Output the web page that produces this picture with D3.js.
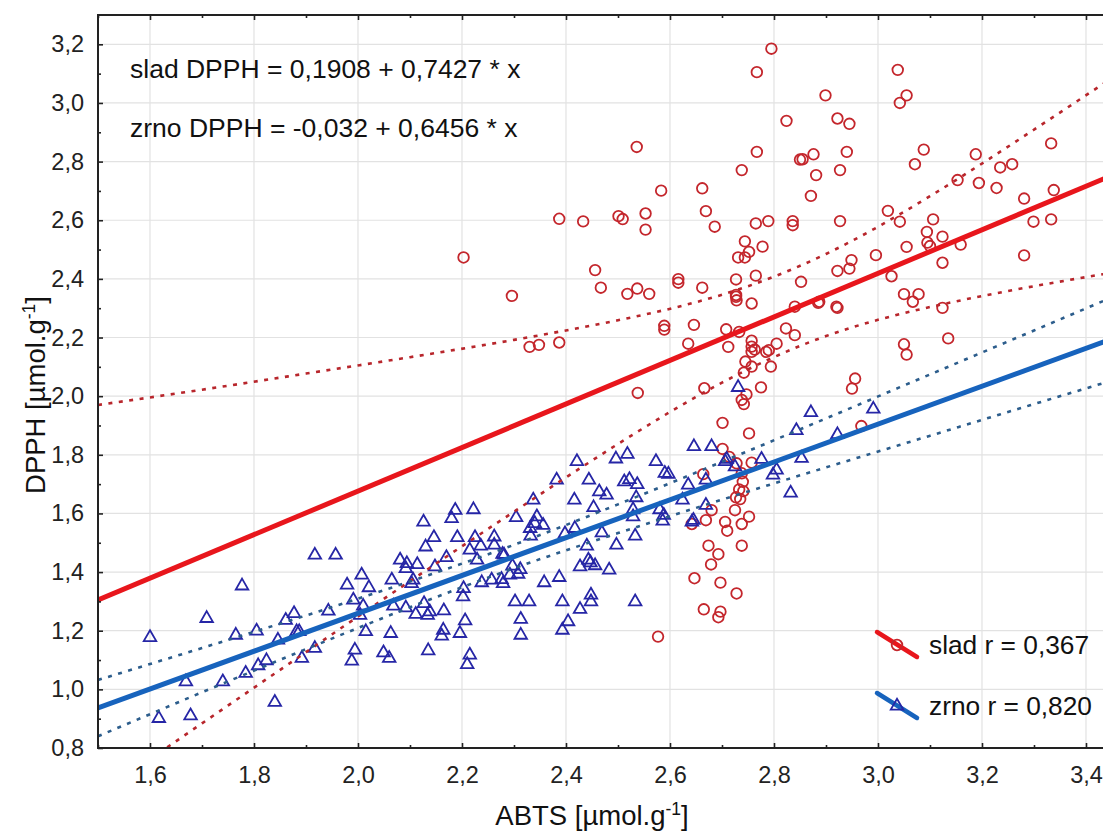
<!DOCTYPE html>
<html>
<head>
<meta charset="utf-8">
<script src="https://cdn.jsdelivr.net/npm/d3@7"></script>
<style>
	body { margin: 0; background: #fff; }
	svg { display: block; font-family: "Liberation Sans", Arial, sans-serif; }
</style>
</head>
<body>
<svg id="chart" width="1103" height="832"></svg>
<script>

// slad (malt) samples: [ABTS, DPPH]
const sladPoints = [
	[2.203,2.473],[2.296,2.342],[2.387,2.605],[2.433,2.596],[2.501,2.614],[2.509,2.604],
	[2.553,2.623],[2.553,2.568],[2.583,2.701],[2.456,2.430],[2.467,2.370],[2.518,2.349],
	[2.537,2.367],[2.560,2.349],[2.330,2.168],[2.348,2.175],[2.387,2.183],[2.589,2.240],
	[2.589,2.227],[2.616,2.399],[2.616,2.387],[2.795,3.185],[2.767,3.105],[2.824,2.939],
	[2.767,2.833],[2.738,2.771],[2.850,2.807],[2.536,2.850],[2.662,2.709],[2.669,2.631],
	[2.686,2.578],[2.765,2.589],[2.789,2.597],[2.836,2.597],[2.836,2.583],[2.744,2.528],
	[2.778,2.510],[2.752,2.492],[2.731,2.473],[2.744,2.473],[2.765,2.411],[2.727,2.398],
	[2.662,2.370],[2.727,2.345],[2.727,2.339],[2.852,2.390],[2.899,3.026],[3.038,3.113],
	[3.055,3.026],[3.042,3.000],[2.922,2.947],[2.945,2.929],[2.876,2.825],[2.855,2.808],
	[2.940,2.833],[2.927,2.771],[2.881,2.754],[2.871,2.683],[3.088,2.841],[3.071,2.791],
	[3.188,2.825],[3.333,2.862],[3.235,2.780],[3.258,2.791],[3.153,2.737],[3.194,2.727],
	[3.228,2.710],[3.281,2.674],[3.338,2.703],[3.299,2.595],[3.333,2.603],[3.281,2.480],
	[2.927,2.597],[3.019,2.632],[3.042,2.595],[3.106,2.603],[3.094,2.560],[3.095,2.524],
	[3.100,2.512],[3.124,2.544],[3.159,2.517],[3.124,2.455],[2.996,2.481],[3.055,2.509],
	[2.949,2.464],[2.945,2.435],[2.922,2.427],[3.026,2.409],[2.887,2.322],[2.922,2.301],
	[3.050,2.348],[3.078,2.348],[3.067,2.322],[3.124,2.301],[3.135,2.197],[3.050,2.177],
	[3.055,2.142],[2.956,2.060],[2.950,2.026],[2.968,1.898],[2.757,2.316],[2.728,2.327],
	[2.646,2.243],[2.708,2.228],[2.733,2.219],[2.635,2.179],[2.712,2.168],[2.757,2.189],
	[2.757,2.169],[2.763,2.159],[2.757,2.151],[2.785,2.151],[2.790,2.157],[2.805,2.179],
	[2.823,2.231],[2.840,2.208],[2.840,2.305],[2.885,2.318],[2.920,2.305],[2.745,2.118],
	[2.757,2.101],[2.742,2.080],[2.794,2.101],[2.538,2.011],[2.666,2.027],[2.775,2.030],
	[2.747,2.006],[2.738,1.987],[2.742,1.973],[2.701,1.909],[2.752,1.873],[2.701,1.820],
	[2.714,1.793],[2.728,1.771],[2.757,1.773],[2.664,1.734],[2.738,1.737],[2.740,1.708],
	[2.733,1.682],[2.741,1.676],[2.727,1.655],[2.735,1.649],[2.680,1.611],[2.725,1.611],
	[2.642,1.564],[2.669,1.577],[2.706,1.571],[2.710,1.541],[2.738,1.564],[2.752,1.589],
	[2.674,1.490],[2.693,1.461],[2.679,1.426],[2.738,1.490],[2.647,1.379],[2.697,1.364],
	[2.728,1.327],[2.665,1.273],[2.697,1.265],[2.693,1.246],[2.577,1.180]
];

// zrno (grain) samples: [ABTS, DPPH]
const zrnoPoints = [
	[1.600,1.177],[1.709,1.242],[1.765,1.185],[1.669,1.026],[1.740,1.026],[1.784,1.055],
	[1.617,0.901],[1.678,0.910],[1.777,1.353],[1.917,1.458],[1.957,1.458],[1.805,1.199],
	[1.808,1.081],[1.824,1.098],[1.840,0.956],[1.846,1.168],[1.861,1.236],[1.877,1.259],
	[1.882,1.197],[1.887,1.197],[1.892,1.106],[1.917,1.140],[1.943,1.267],[1.979,1.356],
	[2.007,1.390],[2.021,1.347],[1.991,1.305],[2.010,1.284],[2.004,1.253],[1.994,1.134],
	[1.988,1.097],[2.015,1.197],[2.049,1.125],[2.060,1.106],[2.065,1.373],[2.068,1.284],
	[2.063,1.191],[2.081,1.441],[2.094,1.429],[2.114,1.426],[2.092,1.412],[2.106,1.373],
	[2.103,1.361],[2.126,1.571],[2.130,1.486],[2.092,1.278],[2.111,1.256],[2.127,1.293],
	[2.134,1.253],[2.138,1.265],[2.135,1.132],[2.646,1.828],[2.421,1.777],[2.496,1.786],
	[2.518,1.802],[2.573,1.777],[2.382,1.714],[2.444,1.714],[2.512,1.708],[2.522,1.716],
	[2.537,1.699],[2.590,1.737],[2.597,1.734],[2.635,1.697],[2.337,1.646],[2.416,1.646],
	[2.464,1.674],[2.478,1.663],[2.453,1.620],[2.535,1.654],[2.580,1.613],[2.624,1.646],
	[2.529,1.613],[2.529,1.589],[2.588,1.594],[2.586,1.574],[2.645,1.577],[2.642,1.571],
	[2.187,1.611],[2.180,1.583],[2.222,1.613],[2.146,1.518],[2.191,1.518],[2.225,1.518],
	[2.236,1.489],[2.215,1.475],[2.262,1.520],[2.262,1.492],[2.304,1.586],[2.344,1.589],
	[2.340,1.566],[2.356,1.560],[2.331,1.549],[2.332,1.523],[2.398,1.531],[2.417,1.549],
	[2.469,1.534],[2.497,1.492],[2.533,1.523],[2.440,1.489],[2.170,1.450],[2.148,1.418],
	[2.229,1.441],[2.278,1.461],[2.281,1.458],[2.297,1.421],[2.308,1.393],[2.312,1.409],
	[2.292,1.390],[2.238,1.364],[2.257,1.373],[2.276,1.375],[2.279,1.361],[2.358,1.364],
	[2.387,1.382],[2.427,1.418],[2.443,1.441],[2.447,1.432],[2.456,1.422],[2.483,1.407],
	[2.203,1.344],[2.202,1.316],[2.165,1.268],[2.206,1.234],[2.164,1.202],[2.161,1.182],
	[2.196,1.191],[2.215,1.117],[2.210,1.085],[2.302,1.299],[2.329,1.299],[2.313,1.239],
	[2.313,1.185],[2.393,1.299],[2.404,1.231],[2.393,1.202],[2.427,1.273],[2.448,1.322],
	[2.448,1.299],[2.533,1.299],[2.731,2.030],[2.871,1.944],[2.991,1.956],[2.843,1.883],
	[2.922,1.869],[2.853,1.788],[2.776,1.785],[2.805,1.748],[2.798,1.731],[2.832,1.670],
	[2.680,1.828],[2.709,1.785],[2.725,1.759],[2.706,1.777],[2.669,1.714],[2.669,1.628]
];

// regression coefficients as printed on the chart
const sladFit = [0.1908, 0.7427];
const zrnoFit = [-0.032, 0.6456];

// 95% confidence bands
const bandX = [1.5, 1.7, 1.9, 2.1, 2.3, 2.5, 2.7, 2.9, 3.1, 3.3, 3.5];
const sladUpper = [1.970, 2.022, 2.077, 2.133, 2.192, 2.259, 2.346, 2.485, 2.682, 2.909, 3.144];
const sladLower = [0.640, 0.884, 1.127, 1.369, 1.606, 1.837, 2.046, 2.205, 2.304, 2.375, 2.436];
const zrnoUpper = [1.032, 1.141, 1.252, 1.368, 1.493, 1.631, 1.776, 1.924, 2.074, 2.224, 2.375];
const zrnoLower = [0.840, 0.990, 1.137, 1.280, 1.413, 1.533, 1.647, 1.757, 1.865, 1.973, 2.080];

const xTicks = [1.6, 1.8, 2.0, 2.2, 2.4, 2.6, 2.8, 3.0, 3.2, 3.4];
const xMinor = [1.5, 1.7, 1.9, 2.1, 2.3, 2.5, 2.7, 2.9, 3.1, 3.3];
const yTicks = [0.8, 1.0, 1.2, 1.4, 1.6, 1.8, 2.0, 2.2, 2.4, 2.6, 2.8, 3.0, 3.2];
const yMinor = [0.9, 1.1, 1.3, 1.5, 1.7, 1.9, 2.1, 2.3, 2.5, 2.7, 2.9, 3.1];

const equations = ["slad DPPH = 0,1908 + 0,7427 * x", "zrno DPPH = -0,032 + 0,6456 * x"];
const legendLabels = ["slad r = 0,367", "zrno r = 0,820"];

// --------------------------------------------------------------------

const redLine = "#e8161c", redDot = "#c4262c", redBand = "#b8262c";
const blueLine = "#1763bd", blueDot = "#2626a6", blueBand = "#2c5d8c";

const margin = {top: 15, left: 98, bottom: 84};
const svgHeight = 832;
const plotRight = 1138;		// x = 3.5, cut off by the picture edge

const svg = d3.select("#chart");

const x = d3.scaleLinear().domain([1.5, 3.5]).range([margin.left, plotRight]);
const y = d3.scaleLinear().domain([0.8, 3.3]).range([svgHeight - margin.bottom, margin.top]);

const comma = v => d3.format(".1f")(v).replace(".", ",");

svg.append("defs").append("clipPath")
	.attr("id", "plot-clip")
	.append("rect")
	.attr("x", margin.left)
	.attr("y", margin.top)
	.attr("width", plotRight - margin.left)
	.attr("height", y(0.8) - margin.top);

// grid
const grid = svg.append("g").attr("class", "grid");

grid.selectAll("line.gx")
	.data(xTicks)
	.join("line")
	.attr("x1", d => x(d)).attr("x2", d => x(d))
	.attr("y1", margin.top).attr("y2", y(0.8));

grid.selectAll("line.gy")
	.data(yTicks.filter(v => v > 0.8))
	.join("line")
	.attr("class", "gy")
	.attr("x1", margin.left).attr("x2", plotRight)
	.attr("y1", d => y(d)).attr("y2", d => y(d));

grid.selectAll("line")
	.attr("stroke", "#e2e2e2")
	.attr("stroke-width", 1.2);

// scatter
const plot = svg.append("g").attr("clip-path", "url(#plot-clip)");

plot.append("g")
	.selectAll("circle")
	.data(sladPoints)
	.join("circle")
	.attr("cx", d => x(d[0]))
	.attr("cy", d => y(d[1]))
	.attr("r", 5.3)
	.attr("fill", "none")
	.attr("stroke", redDot)
	.attr("stroke-width", 1.8);

const triangle = d3.symbol(d3.symbolTriangle, 68);

plot.append("g")
	.selectAll("path")
	.data(zrnoPoints)
	.join("path")
	.attr("transform", d => `translate(${x(d[0])},${y(d[1])})`)
	.attr("d", triangle)
	.attr("fill", "none")
	.attr("stroke", blueDot)
	.attr("stroke-width", 1.8);

// bands and regression lines
const bandLine = d3.line()
	.x((d, i) => x(bandX[i]))
	.y(d => y(d))
	.curve(d3.curveNatural);

[[sladUpper, redBand], [sladLower, redBand], [zrnoUpper, blueBand], [zrnoLower, blueBand]]
	.forEach(([band, color]) => {
		plot.append("path")
			.attr("d", bandLine(band))
			.attr("fill", "none")
			.attr("stroke", color)
			.attr("stroke-width", 2.6)
			.attr("stroke-dasharray", "4,6.5");
	});

[[zrnoFit, blueLine], [sladFit, redLine]].forEach(([fit, color]) => {
	const ends = x.domain();
	plot.append("line")
		.attr("x1", x(ends[0])).attr("y1", y(fit[0] + fit[1] * ends[0]))
		.attr("x2", x(ends[1])).attr("y2", y(fit[0] + fit[1] * ends[1]))
		.attr("stroke", color)
		.attr("stroke-width", 5);
});

// axes
const tickStyle = g => {
	g.select(".domain").remove();
	g.selectAll(".tick line").attr("stroke", "#222").attr("stroke-width", 1.6);
	g.selectAll("text")
		.attr("fill", "#222")
		.style("font-size", "23.5px")
		.style("font-family", "'Liberation Sans', Arial, sans-serif");
};

svg.append("g")
	.attr("transform", `translate(0,${y(0.8)})`)
	.call(d3.axisBottom(x).tickValues(xTicks).tickSize(-5).tickPadding(18).tickFormat(comma))
	.call(tickStyle);

svg.append("g")
	.attr("transform", `translate(0,${y(0.8)})`)
	.call(d3.axisBottom(x).tickValues(xMinor).tickSize(-3).tickFormat(""))
	.call(tickStyle);

svg.append("g")
	.attr("transform", `translate(0,${margin.top})`)
	.call(d3.axisTop(x).tickValues(xTicks).tickSize(-5).tickFormat(""))
	.call(tickStyle);

svg.append("g")
	.attr("transform", `translate(0,${margin.top})`)
	.call(d3.axisTop(x).tickValues(xMinor).tickSize(-3).tickFormat(""))
	.call(tickStyle);

svg.append("g")
	.attr("transform", `translate(${margin.left},0)`)
	.call(d3.axisLeft(y).tickValues(yTicks).tickSize(-5).tickPadding(14).tickFormat(comma))
	.call(tickStyle);

svg.append("g")
	.attr("transform", `translate(${margin.left},0)`)
	.call(d3.axisLeft(y).tickValues(yMinor).tickSize(-3).tickFormat(""))
	.call(tickStyle);

// frame (left, bottom, top)
svg.append("path")
	.attr("d", `M${plotRight},${margin.top}H${margin.left}V${y(0.8)}H${plotRight}`)
	.attr("fill", "none")
	.attr("stroke", "#222")
	.attr("stroke-width", 2);

// equations
svg.append("g")
	.selectAll("text")
	.data(equations)
	.join("text")
	.attr("x", 130)
	.attr("y", (d, i) => 78 + i * 59)
	.attr("fill", "#111")
	.style("font-size", "26.5px")
	.text(d => d);

// legend
const legend = svg.append("g").attr("class", "legend");
const legendItems = [
	{label: legendLabels[0], color: redLine, marker: "circle", markerColor: redDot},
	{label: legendLabels[1], color: blueLine, marker: "triangle", markerColor: blueDot}
];

legendItems.forEach((item, i) => {
	const cy = 645 + i * 61;
	const g = legend.append("g").attr("transform", `translate(897,${cy})`);

	g.append("line")
		.attr("x1", -20).attr("y1", -13)
		.attr("x2", 20).attr("y2", 12)
		.attr("stroke", item.color)
		.attr("stroke-width", 4.5)
		.attr("stroke-linecap", "round");

	if (item.marker == "circle") {
		g.append("circle")
			.attr("r", 5.3)
			.attr("fill", "none")
			.attr("stroke", item.markerColor)
			.attr("stroke-width", 1.8);
	}
	else {
		g.append("path")
			.attr("d", triangle)
			.attr("fill", "none")
			.attr("stroke", item.markerColor)
			.attr("stroke-width", 1.8);
	}

	legend.append("text")
		.attr("x", 929)
		.attr("y", cy + 9)
		.attr("fill", "#111")
		.style("font-size", "26.3px")
		.text(item.label);
});

// axis titles
const xTitle = svg.append("text")
	.attr("x", 592)
	.attr("y", 825)
	.attr("text-anchor", "middle")
	.attr("fill", "#111")
	.style("font-size", "27.5px");
xTitle.append("tspan").text("ABTS [µmol.g");
xTitle.append("tspan").attr("dy", -10).style("font-size", "17.5px").text("-1");
xTitle.append("tspan").attr("dy", 10).text("]");

const yTitle = svg.append("text")
	.attr("transform", "translate(45,395) rotate(-90)")
	.attr("text-anchor", "middle")
	.attr("fill", "#111")
	.style("font-size", "27.5px");
yTitle.append("tspan").text("DPPH [µmol.g");
yTitle.append("tspan").attr("dy", -10).style("font-size", "17.5px").text("-1");
yTitle.append("tspan").attr("dy", 10).text("]");

</script>
</body>
</html>
